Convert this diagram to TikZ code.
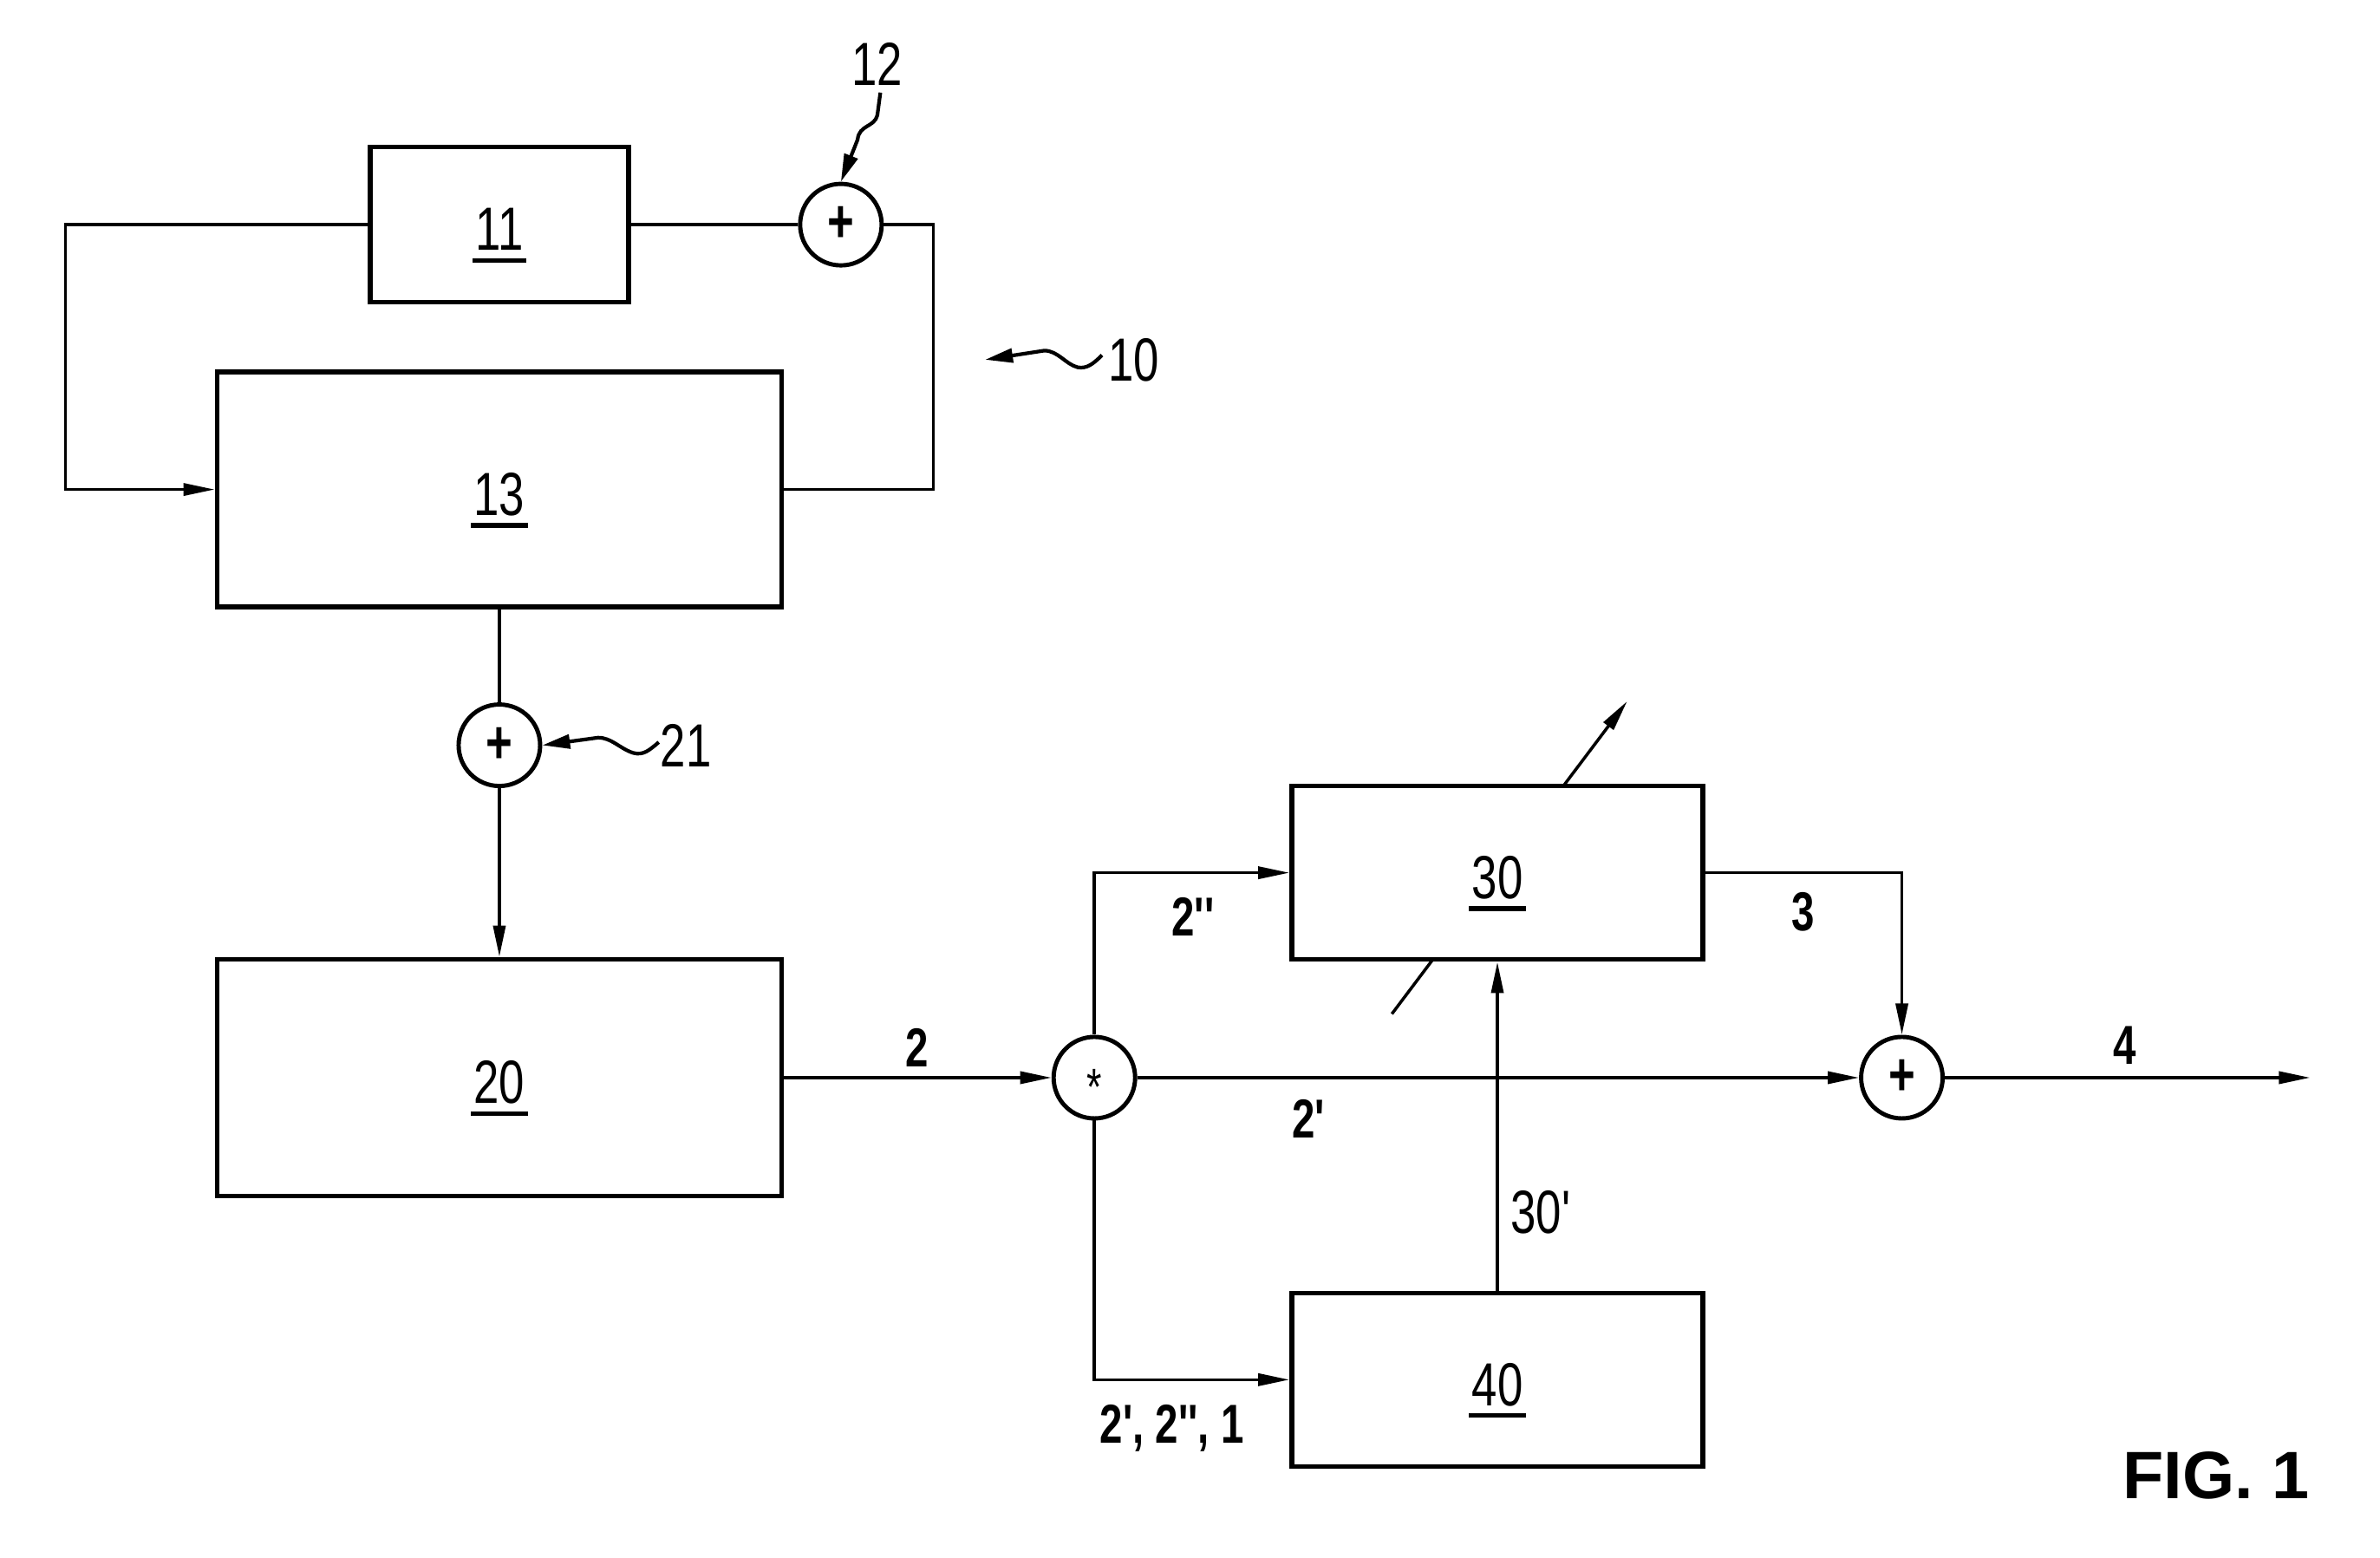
\documentclass[tikz,border=0pt]{standalone}
\usepackage{fontspec}
\newfontfamily\labfont{Liberation Sans}[FakeStretch=0.75,Ligatures=TeXOff]
\newfontfamily\figfont{Liberation Sans}[Ligatures=TeXOff]
\usetikzlibrary{arrows.meta}
\newcommand{\bnum}[1]{\setbox0=\hbox{#1}\rule{0pt}{21pt}\rlap{\kern-1pt\rule[-4pt]{\dimexpr\wd0+2pt\relax}{1.5pt}}\box0}

\begin{document}
\begin{tikzpicture}[x=0.0175cm,y=-0.0175cm,
    block/.style={draw,line width=1.6pt,fill=white,inner sep=0pt,font=\labfont\fontsize{20}{22}\selectfont},
    summ/.style={draw,circle,line width=1.4pt,fill=white,minimum size=0.94cm,inner sep=0pt,font=\labfont\bfseries\fontsize{20}{22}\selectfont},
    line/.style={line width=1pt},
    arr/.style={line width=1pt,-{Triangle[length=0.36cm,width=0.14cm]}},
    lead/.style={line width=1.2pt,-{Triangle[length=0.32cm,width=0.16cm]}},
    num/.style={font=\labfont\fontsize{20}{22}\selectfont,inner sep=1pt},
    sig/.style={font=\labfont\bfseries\fontsize{18}{20}\selectfont,inner sep=1pt}]
    \useasboundingbox (0,0) rectangle (1568,1026);

    % Adjustment arrow through block 30 (covered by the block)
    \coordinate (d1) at (917,668);
    \coordinate (d2) at (1072,462);
    \draw[arr] (d1) -- (d2);

    % Blocks
    \node[block, minimum width=2.98cm, minimum height=1.79cm] (b11) at (329,148) {\bnum{11}};
    \node[block, minimum width=6.51cm, minimum height=2.71cm] (b13) at (329,322.5) {\bnum{13}};
    \node[block, minimum width=6.51cm, minimum height=2.73cm] (b20) at (329,710) {\bnum{20}};
    \node[block, minimum width=4.74cm, minimum height=2.0cm] (b30) at (986.5,575) {\bnum{30}};
    \node[block, minimum width=4.74cm, minimum height=2.0cm] (b40) at (986.5,909) {\bnum{40}};

    % Summing points
    \node[summ] (c12) at (554,148) {+};
    \node[summ] (c21) at (329,491) {+};
    \node[summ] (cs) at (721,710) {};
    \node[font=\labfont\fontsize{17}{19}\selectfont, anchor=base, inner sep=0pt] (star) at ([yshift=-9pt]cs.center) {*};
    \node[summ] (cp) at (1253,710) {+};

    % Corners and free ends
    \coordinate (k1) at (43,148);
    \coordinate (k2) at (615,148);
    \coordinate (out) at (1522,710);
    \coordinate (a10) at (649,237);

    % Loop 10
    \draw[arr] (b11.west) -- (k1) |- (b13.west);
    \draw[line] (b11.east) -- (c12.west);
    \draw[line] (c12.east) -- (k2) |- (b13.east);
    \draw[line] (b13.south) -- (c21.north);
    \draw[arr] (c21.south) -- (b20.north);

    % Signal paths
    \draw[arr] (b20.east) -- (cs.west);
    \draw[arr] (cs.north) |- (b30.west);
    \draw[arr] (cs.south) |- (b40.west);
    \draw[arr] (cs.east) -- (cp.west);
    \draw[arr] (b30.east) -| (cp.north);
    \draw[arr] (b40.north) -- (b30.south);
    \draw[arr] (cp.east) -- (out);

    % Reference numerals
    \node[num] (n12) at (578,42) {12};
    \node[num] (n10) at (747,237) {10};
    \node[num] (n21) at (452,491) {21};
    \draw[lead] (580,61) -- (578,76) .. controls (576,84) and (566,82) .. (565,92) -- (c12.north);
    \draw[lead] (434,489) .. controls (428,494) and (424,498) .. (417,496) .. controls (408,493) and (403,486) .. (394,486) -- (c21.east);
    \draw[lead] (726,234) .. controls (720,240) and (716,243) .. (710,242) .. controls (702,240) and (697,231) .. (688,231) -- (a10);

    % Signal labels
    \node[sig] (s2) at (604,690) {2};
    \node[sig] (s2b) at (786,604) {2''};
    \node[sig] (s3) at (1188,601) {3};
    \node[sig] (s2a) at (862,737) {2'};
    \node[sig] (s4) at (1400,689) {4};
    \node[num] (s30) at (1015,799) {30'};
    \node[sig] (s40) at (772,941) {2', 2'', 1};

    \node[font=\figfont\bfseries\fontsize{22}{24}\selectfont] (fig) at (1460,972) {FIG. 1};
\end{tikzpicture}
\end{document}
